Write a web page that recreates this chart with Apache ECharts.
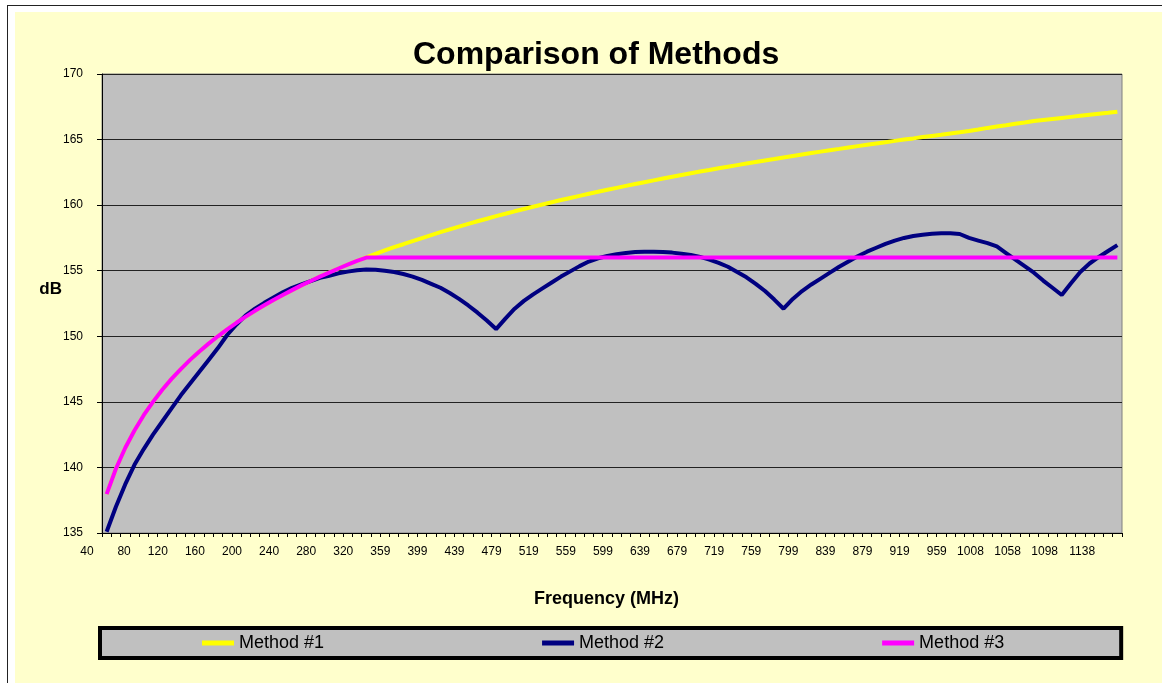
<!DOCTYPE html>
<html>
<head>
<meta charset="utf-8">
<script src="https://cdn.jsdelivr.net/npm/echarts@6/dist/echarts.min.js"></script>
<style>
  html, body { margin: 0; padding: 0; background: #fff; width: 1162px; height: 683px; overflow: hidden; }
  #frame { position: absolute; left: 7px; top: 5px; width: 1170px; height: 700px; border-left: 1px solid #222; border-top: 1px solid #222; }
  #chart { position: absolute; left: 15px; top: 12px; width: 1147px; height: 671px; }
</style>
</head>
<body>
<div id="frame"></div>
<div id="chart"></div>
<script>
// 频率（MHz）类目
var freqs = [
  '40', '50', '60', '70', '80', '90', '100', '110', '120', '130',
  '140', '150', '160', '170', '180', '190', '200', '210', '220', '230',
  '240', '250', '260', '270', '280', '290', '300', '310', '320', '330',
  '340', '350', '359', '369', '379', '389', '399', '409', '419', '429',
  '439', '449', '459', '469', '479', '489', '499', '509', '519', '529',
  '539', '549', '559', '569', '579', '589', '599', '609', '619', '629',
  '639', '649', '659', '669', '679', '689', '699', '709', '719', '729',
  '739', '749', '759', '769', '779', '789', '799', '809', '819', '829',
  '839', '849', '859', '869', '879', '889', '899', '909', '919', '929',
  '939', '949', '959', '971', '983', '996', '1008', '1020', '1033', '1045',
  '1058', '1068', '1078', '1088', '1098', '1108', '1118', '1128', '1138', '1148'
];

var method1 = [
  137.96, 139.90, 141.48, 142.82, 143.98, 145.00, 145.92, 146.75, 147.50, 148.20,
  148.84, 149.44, 150.00, 150.53, 151.03, 151.50, 151.94, 152.36, 152.77, 153.15,
  153.52, 153.88, 154.22, 154.55, 154.86, 155.17, 155.46, 155.75, 156.02, 156.29,
  156.55, 156.80, 157.02, 157.26, 157.49, 157.72, 157.94, 158.15, 158.36, 158.57,
  158.77, 158.96, 159.16, 159.34, 159.53, 159.71, 159.88, 160.05, 160.22, 160.39,
  160.55, 160.71, 160.87, 161.02, 161.17, 161.32, 161.47, 161.61, 161.75, 161.89,
  162.03, 162.17, 162.30, 162.43, 162.56, 162.68, 162.81, 162.93, 163.05, 163.17,
  163.29, 163.41, 163.52, 163.64, 163.75, 163.86, 163.97, 164.08, 164.19, 164.29,
  164.40, 164.50, 164.60, 164.70, 164.80, 164.90, 165.00, 165.09, 165.19, 165.28,
  165.37, 165.47, 165.56, 165.66, 165.77, 165.89, 165.99, 166.09, 166.20, 166.30,
  166.41, 166.49, 166.57, 166.65, 166.73, 166.81, 166.89, 166.97, 167.04, 167.12
];

var method2 = [
  135.1, 137.0, 138.7, 140.2, 141.4, 142.5, 143.5, 144.5, 145.5, 146.4,
  147.3, 148.2, 149.1, 150.1, 150.9, 151.6, 152.1, 152.55, 152.95, 153.35,
  153.7, 153.95, 154.2, 154.45, 154.62, 154.8, 154.93, 155.03, 155.1, 155.08,
  155.0, 154.9, 154.75, 154.55, 154.3, 154.0, 153.7, 153.3, 152.85, 152.35,
  151.8, 151.2, 150.55, 151.35, 152.1, 152.7, 153.2, 153.65, 154.1, 154.55,
  154.95, 155.35, 155.7, 155.95, 156.12, 156.25, 156.35, 156.42, 156.45, 156.45,
  156.42, 156.38, 156.3, 156.2, 156.05, 155.85, 155.6, 155.3, 154.9, 154.5,
  154.0, 153.45, 152.8, 152.1, 152.85, 153.45, 153.95, 154.4, 154.85, 155.3,
  155.7, 156.1, 156.45, 156.75, 157.05, 157.3, 157.5, 157.65, 157.75, 157.82,
  157.85, 157.85, 157.8, 157.5, 157.3, 157.1, 156.85, 156.35, 155.85, 155.35,
  154.85, 154.25, 153.7, 153.15, 154.05, 154.9, 155.55, 156.05, 156.5, 156.95
];

var method3 = [
  137.96, 139.90, 141.48, 142.82, 143.98, 145.00, 145.92, 146.75, 147.50, 148.20,
  148.84, 149.44, 150.00, 150.53, 151.03, 151.50, 151.94, 152.36, 152.77, 153.15,
  153.52, 153.88, 154.22, 154.55, 154.86, 155.17, 155.46, 155.75, 156, 156,
  156, 156, 156, 156, 156, 156, 156, 156, 156, 156,
  156, 156, 156, 156, 156, 156, 156, 156, 156, 156,
  156, 156, 156, 156, 156, 156, 156, 156, 156, 156,
  156, 156, 156, 156, 156, 156, 156, 156, 156, 156,
  156, 156, 156, 156, 156, 156, 156, 156, 156, 156,
  156, 156, 156, 156, 156, 156, 156, 156, 156, 156,
  156, 156, 156, 156, 156, 156, 156, 156, 156, 156,
  156, 156, 156, 156, 156, 156, 156, 156, 156, 156
];

var seriesNames = ['Method #1', 'Method #2', 'Method #3'];
var seriesColors = ['#FFFF00', '#000080', '#FF00FF'];

(function() {
  var myChart = echarts.init(document.getElementById('chart'));
  var font = 'Arial, "Liberation Sans", sans-serif';

  var seriesData = [method1, method2, method3];
  var series = seriesNames.map(function(name, i) {
    return {
      name: name,
      type: 'line',
      data: seriesData[i],
      showSymbol: false,
      symbol: 'none',
      smooth: false,
      animation: false,
      lineStyle: { color: seriesColors[i], width: 4 },
      itemStyle: { color: seriesColors[i] }
    };
  });

  var option = {
    backgroundColor: '#FFFFCC',
    animation: false,
    textStyle: { fontFamily: font, color: '#000' },
    title: {
      text: 'Comparison of Methods',
      left: 393,
      top: 22,
      textStyle: { fontSize: 32, fontWeight: 'bold', color: '#000', fontFamily: font }
    },
    grid: {
      left: 87,
      top: 62,
      right: 40,
      bottom: 150,
      show: true,
      backgroundColor: '#C0C0C0',
      borderColor: '#808080',
      borderWidth: 1
    },
    legend: {
      data: seriesNames,
      left: 85,
      top: 616,
      orient: 'horizontal',
      backgroundColor: '#C0C0C0',
      borderColor: '#000',
      borderWidth: 4,
      borderRadius: 0,
      padding: [6, 117, 6, 102],
      itemGap: 218,
      itemWidth: 32,
      itemHeight: 5,
      icon: 'rect',
      textStyle: { fontSize: 18, color: '#000', fontFamily: font }
    },
    xAxis: {
      type: 'category',
      data: freqs,
      boundaryGap: true,
      name: 'Frequency (MHz)',
      nameLocation: 'middle',
      nameGap: 57,
      nameTextStyle: { fontSize: 18, fontWeight: 'bold', color: '#000', padding: [0, 11, 0, 0] },
      axisLine: { show: true, lineStyle: { color: '#000', width: 1 } },
      axisTick: { show: true, interval: 0, length: 4, lineStyle: { color: '#000' } },
      axisLabel: {
        interval: 3,
        align: 'right',
        padding: [0, 13, 0, 0],
        margin: 13,
        fontSize: 12,
        color: '#000'
      },
      splitLine: { show: false }
    },
    yAxis: {
      type: 'value',
      min: 135,
      max: 170,
      interval: 5,
      name: 'dB',
      nameLocation: 'middle',
      nameRotate: 0,
      nameGap: 40,
      nameMoveOverlap: false,
      nameTextStyle: { fontSize: 17, fontWeight: 'bold', color: '#000', verticalAlign: 'bottom', padding: [0, 0, 6, 0] },
      axisLine: { show: true, lineStyle: { color: '#000', width: 1 } },
      axisTick: { show: true, length: 5, lineStyle: { color: '#000' } },
      axisLabel: { fontSize: 12, margin: 19, color: '#000' },
      splitLine: { show: true, lineStyle: { color: '#222', width: 1 } }
    },
    series: series
  };

  myChart.setOption(option);
})();
</script>
</body>
</html>
